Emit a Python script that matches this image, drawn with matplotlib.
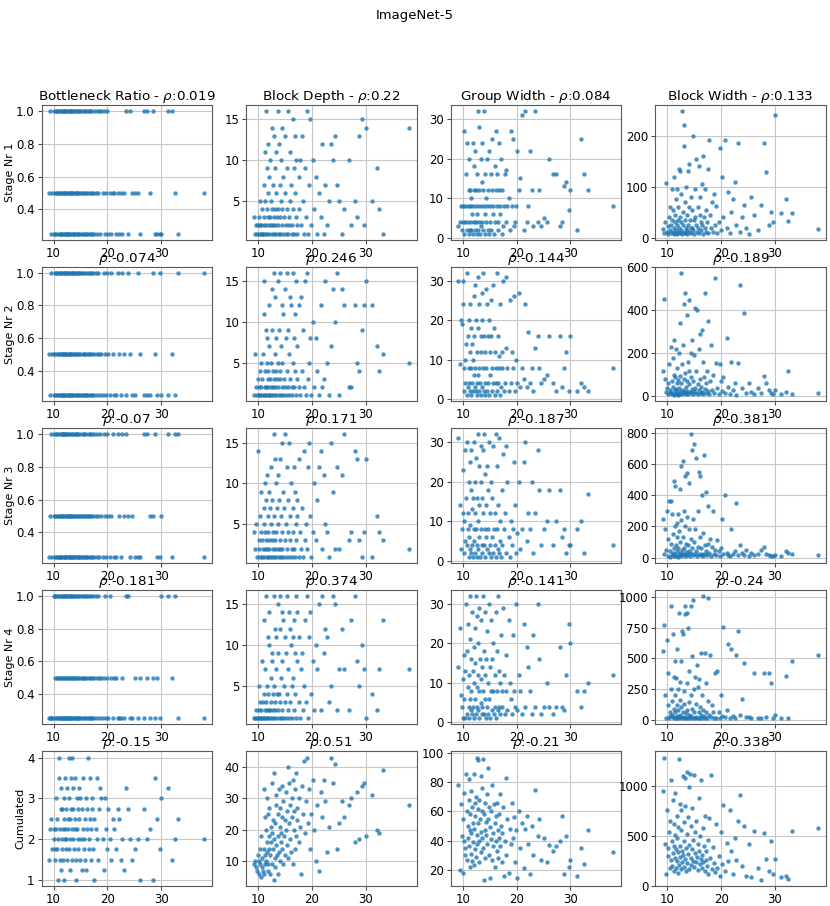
import matplotlib.pyplot as plt
from matplotlib.ticker import MaxNLocator

# validation error of each sampled model (shared x axis of every panel)
error = [
    9.2, 9.4, 9.6, 9.8, 10.0, 10.1, 10.2, 10.3, 10.4, 10.5,
    10.6, 10.7, 10.8, 10.9, 11.0, 11.1, 11.15, 11.2, 11.3, 11.35,
    11.4, 11.5, 11.55, 11.6, 11.7, 11.8, 11.85, 11.9, 12.0, 12.05,
    12.1, 12.2, 12.25, 12.3, 12.4, 12.5, 12.55, 12.6, 12.7, 12.8,
    12.85, 12.9, 13.0, 13.05, 13.1, 13.2, 13.3, 13.35, 13.4, 13.5,
    13.6, 13.65, 13.7, 13.8, 13.9, 14.0, 14.05, 14.1, 14.2, 14.3,
    14.4, 14.45, 14.5, 14.6, 14.7, 14.8, 14.9, 15.0, 15.1, 15.2,
    15.3, 15.4, 15.5, 15.6, 15.7, 15.8, 15.9, 16.0, 16.1, 16.2,
    16.3, 16.4, 16.5, 16.6, 16.7, 16.8, 16.9, 17.0, 17.1, 17.2,
    17.3, 17.5, 17.6, 17.8, 18.0, 18.1, 18.3, 18.5, 18.7, 18.9,
    19.1, 19.3, 19.5, 19.7, 19.9, 20.1, 20.4, 20.7, 21.0, 21.3,
    21.6, 21.9, 22.2, 22.5, 22.8, 23.1, 23.5, 23.9, 24.2, 24.6,
    25.1, 25.6, 26.0, 26.8, 27.3, 28.0, 28.4, 28.8, 29.2, 29.7,
    30.0, 31.2, 32.0, 32.5, 33.2, 38.0]

# --- stage 1 ---
s1_bottleneck = [
    0.5, 1, 0.25, 0.5, 0.25, 1, 0.5, 0.25, 1, 0.5,
    1, 0.25, 0.5, 1, 0.25, 0.5, 0.5, 1, 0.25, 1,
    0.25, 0.5, 1, 0.25, 0.5, 1, 0.25, 1, 0.5, 0.25,
    0.5, 1, 0.25, 1, 0.5, 0.25, 0.5, 1, 0.25, 0.5,
    1, 0.25, 0.5, 1, 0.25, 0.5, 1, 0.25, 1, 0.5,
    0.25, 0.5, 1, 0.25, 1, 0.5, 0.25, 0.5, 1, 0.25,
    0.5, 1, 0.25, 0.5, 1, 0.25, 1, 0.5, 0.25, 0.5,
    1, 0.25, 0.5, 0.25, 1, 0.5, 1, 0.25, 0.5, 1,
    0.25, 0.5, 1, 0.25, 0.5, 1, 0.25, 1, 0.5, 0.25,
    0.5, 1, 0.25, 0.5, 1, 0.25, 0.5, 1, 0.25, 1,
    0.5, 1, 0.25, 0.5, 1, 0.25, 0.5, 0.25, 0.5, 0.5,
    0.25, 0.5, 0.25, 0.5, 0.25, 0.5, 1, 0.25, 1, 0.5,
    0.5, 0.5, 0.25, 1, 1, 0.5, 1, 0.25, 0.25, 0.25,
    0.25, 1, 1, 0.5, 0.25, 0.5]
s1_depth = [
    3, 1, 2, 1, 2, 3, 1, 2, 5, 1,
    2, 1, 4, 1, 7, 3, 2, 11, 1, 5,
    16, 2, 9, 1, 4, 12, 3, 6, 2, 8,
    1, 10, 3, 2, 5, 14, 1, 4, 7, 2,
    13, 3, 1, 9, 2, 4, 11, 1, 6, 3,
    16, 2, 4, 1, 12, 7, 3, 1, 5, 10,
    2, 14, 4, 1, 8, 3, 6, 13, 2, 1,
    9, 4, 1, 16, 3, 2, 5, 11, 7, 1,
    2, 15, 4, 9, 1, 6, 13, 3, 10, 2,
    1, 8, 4, 10, 2, 13, 5, 1, 9, 3,
    16, 1, 7, 15, 2, 10, 4, 8, 1, 6,
    3, 12, 1, 7, 2, 5, 12, 10, 13, 7,
    5, 1, 4, 10, 2, 5, 3, 13, 15, 2,
    14, 5, 9, 4, 1, 14]
s1_group = [
    3, 4, 8, 2, 4, 8, 27, 1, 4, 8,
    16, 2, 24, 8, 4, 12, 1, 20, 2, 8,
    12, 4, 10, 2, 6, 8, 24, 1, 12, 4,
    18, 8, 2, 22, 4, 12, 1, 6, 16, 32,
    8, 2, 28, 4, 12, 1, 20, 8, 3, 14,
    24, 4, 12, 2, 8, 32, 6, 1, 16, 10,
    4, 20, 8, 2, 12, 1, 22, 4, 8, 16,
    2, 25, 12, 6, 8, 1, 18, 4, 27, 12,
    8, 16, 2, 4, 24, 12, 6, 8, 20, 1,
    12, 3, 8, 16, 17, 4, 8, 10, 2, 27,
    8, 25, 3, 4, 8, 22, 12, 15, 31, 2,
    32, 4, 8, 22, 12, 3, 32, 4, 12, 3,
    5, 4, 20, 16, 16, 3, 4, 13, 14, 7,
    12, 2, 25, 16, 12, 8]
s1_width = [
    18, 10, 30, 108, 12, 22, 8, 40, 15, 60,
    25, 10, 95, 35, 12, 55, 8, 20, 120, 30,
    10, 45, 15, 75, 25, 8, 95, 35, 12, 60,
    20, 135, 10, 40, 130, 15, 85, 30, 8, 248,
    25, 50, 220, 12, 180, 35, 70, 10, 100, 20,
    15, 45, 8, 130, 25, 60, 12, 145, 35, 20,
    10, 80, 20, 55, 200, 15, 35, 8, 95, 40,
    25, 155, 12, 60, 20, 140, 10, 45, 80, 30,
    15, 105, 25, 8, 160, 40, 20, 95, 12, 55,
    30, 135, 10, 192, 45, 20, 70, 12, 85, 25,
    62, 10, 30, 175, 15, 120, 40, 192, 20, 90,
    10, 50, 75, 110, 25, 185, 12, 40, 65, 20,
    8, 80, 45, 15, 65, 185, 128, 25, 50, 30,
    240, 48, 75, 32, 48, 17]

# --- stage 2 ---
s2_bottleneck = [
    0.5, 0.25, 1, 0.5, 0.25, 0.5, 1, 0.25, 0.5, 1,
    0.25, 1, 0.5, 0.25, 1, 0.5, 0.25, 1, 0.5, 0.25,
    1, 0.5, 0.25, 1, 0.25, 0.5, 1, 0.5, 0.25, 1,
    0.5, 0.25, 1, 0.5, 1, 0.25, 0.5, 0.25, 1, 0.5,
    0.25, 1, 0.5, 0.25, 0.5, 1, 0.25, 1, 0.5, 0.25,
    1, 0.5, 0.25, 1, 0.5, 0.25, 1, 0.5, 0.25, 1,
    0.5, 0.25, 1, 0.25, 0.5, 1, 0.5, 0.25, 1, 0.25,
    1, 0.5, 0.25, 1, 0.5, 0.25, 0.5, 1, 0.25, 0.5,
    0.25, 1, 0.5, 0.25, 1, 0.5, 0.25, 1, 0.5, 0.25,
    1, 0.5, 0.25, 1, 0.5, 0.25, 1, 0.5, 0.25, 0.5,
    0.25, 1, 0.5, 0.25, 1, 0.5, 0.25, 1, 0.5, 0.25,
    0.25, 1, 0.5, 0.25, 1, 0.5, 0.25, 1, 0.5, 0.25,
    0.25, 1, 0.5, 0.25, 0.25, 0.25, 1, 0.5, 0.25, 1,
    0.25, 0.25, 0.5, 0.25, 1, 1]
s2_depth = [
    1, 6, 2, 1, 3, 1, 2, 4, 1, 5,
    2, 1, 3, 6, 1, 11, 15, 2, 4, 1,
    9, 2, 5, 1, 8, 3, 2, 4, 7, 1,
    12, 1, 3, 5, 2, 14, 9, 1, 4, 2,
    16, 3, 1, 6, 2, 13, 4, 1, 8, 3,
    5, 2, 15, 1, 9, 3, 16, 4, 1, 7,
    2, 12, 5, 1, 11, 3, 14, 2, 8, 1,
    4, 16, 2, 9, 1, 6, 13, 3, 12, 2,
    1, 16, 5, 8, 2, 11, 4, 1, 15, 3,
    7, 2, 12, 1, 13, 4, 9, 2, 15, 1,
    16, 3, 5, 8, 1, 10, 2, 8, 4, 1,
    12, 2, 3, 15, 5, 1, 7, 14, 10, 16,
    1, 14, 12, 2, 2, 12, 5, 4, 9, 12,
    15, 12, 7, 4, 6, 5]
s2_group = [
    30, 9, 20, 19, 24, 30, 8, 2, 10, 4,
    14, 32, 1, 3, 16, 8, 20, 4, 2, 12,
    24, 1, 8, 18, 4, 14, 2, 10, 26, 6,
    16, 3, 29, 8, 2, 20, 4, 12, 1, 31,
    6, 18, 2, 8, 24, 4, 16, 1, 12, 27,
    3, 20, 8, 32, 2, 16, 4, 12, 1, 28,
    8, 24, 2, 16, 4, 20, 1, 12, 6, 25,
    16, 2, 8, 29, 4, 18, 1, 12, 4, 8,
    32, 2, 16, 4, 11, 8, 1, 24, 3, 12,
    8, 30, 2, 4, 31, 13, 8, 2, 25, 4,
    12, 8, 26, 2, 10, 4, 27, 3, 8, 5,
    24, 3, 17, 4, 8, 2, 13, 16, 8, 4,
    5, 6, 16, 4, 2, 16, 3, 8, 12, 2,
    16, 2, 4, 3, 2, 8]
s2_width = [
    120, 455, 80, 20, 40, 60, 10, 150, 30, 15,
    230, 20, 70, 10, 180, 45, 100, 8, 260, 30,
    15, 90, 220, 35, 10, 60, 130, 20, 5, 75,
    40, 200, 12, 95, 340, 25, 575, 60, 10, 150,
    30, 240, 15, 80, 430, 20, 110, 480, 45, 10,
    70, 380, 25, 160, 10, 450, 55, 120, 20, 90,
    15, 200, 35, 260, 10, 70, 190, 25, 410, 40,
    120, 15, 400, 55, 10, 220, 30, 290, 80, 15,
    45, 310, 20, 160, 10, 90, 35, 480, 15, 60,
    120, 25, 350, 10, 70, 240, 30, 100, 15, 550,
    155, 40, 10, 150, 70, 25, 90, 15, 270, 45,
    10, 160, 30, 60, 5, 155, 520, 40, 390, 15,
    60, 20, 10, 40, 15, 95, 60, 30, 15, 10,
    30, 10, 20, 120, 10, 15]

# --- stage 3 ---
s3_bottleneck = [
    0.25, 0.5, 1, 0.25, 0.5, 1, 0.25, 0.5, 1, 0.25,
    0.5, 1, 0.25, 0.5, 0.25, 1, 0.5, 0.25, 1, 0.5,
    0.25, 1, 0.5, 0.25, 1, 0.5, 0.25, 0.5, 1, 0.25,
    1, 0.25, 0.5, 1, 0.25, 0.5, 1, 0.25, 0.5, 0.25,
    0.5, 1, 0.25, 0.5, 1, 0.25, 0.5, 1, 0.25, 0.5,
    0.25, 0.5, 1, 0.25, 0.5, 1, 0.25, 1, 0.5, 0.25,
    1, 0.25, 0.5, 1, 0.25, 0.5, 0.25, 1, 0.5, 0.25,
    0.5, 1, 0.25, 0.5, 1, 0.25, 0.5, 0.25, 1, 0.5,
    0.25, 0.5, 1, 0.25, 0.5, 1, 0.25, 0.5, 0.25, 1,
    0.5, 0.25, 1, 0.5, 0.25, 1, 0.5, 0.25, 1, 0.5,
    0.25, 1, 0.5, 0.25, 1, 0.5, 0.25, 0.5, 1, 0.25,
    0.25, 1, 0.5, 0.25, 1, 0.5, 1, 0.5, 0.25, 0.5,
    0.25, 0.25, 0.25, 1, 1, 0.5, 0.5, 1, 0.25, 0.25,
    0.5, 1, 0.25, 1, 1, 0.25]
s3_depth = [
    4, 2, 5, 1, 14, 3, 2, 1, 6, 4,
    9, 1, 3, 2, 7, 5, 1, 10, 4, 2,
    3, 8, 1, 11, 2, 6, 4, 1, 9, 3,
    2, 7, 1, 5, 12, 3, 1, 8, 4, 2,
    16, 1, 6, 3, 13, 2, 4, 1, 10, 7,
    2, 11, 5, 1, 8, 3, 13, 2, 6, 1,
    4, 15, 2, 9, 1, 7, 3, 16, 5, 1,
    12, 2, 8, 4, 1, 15, 6, 3, 10, 2,
    1, 7, 4, 12, 2, 9, 1, 5, 3, 8,
    6, 1, 13, 4, 2, 7, 1, 14, 3, 5,
    2, 12, 15, 6, 1, 4, 10, 3, 8, 12,
    14, 2, 11, 5, 4, 1, 15, 9, 2, 12,
    2, 11, 16, 3, 4, 14, 13, 3, 1, 4,
    13, 1, 6, 4, 3, 2]
s3_group = [
    31, 14, 3, 8, 12, 23, 10, 2, 28, 5,
    16, 4, 30, 8, 12, 1, 20, 6, 25, 3,
    9, 28, 2, 18, 4, 13, 16, 1, 30, 8,
    5, 20, 12, 2, 26, 8, 1, 16, 4, 32,
    10, 3, 24, 6, 14, 1, 20, 8, 29, 4,
    16, 2, 28, 12, 4, 32, 8, 1, 22, 6,
    14, 3, 24, 8, 18, 2, 30, 4, 12, 1,
    20, 6, 16, 2, 29, 8, 4, 12, 1, 32,
    8, 24, 3, 14, 2, 31, 5, 10, 1, 18,
    4, 27, 8, 12, 2, 29, 20, 6, 1, 10,
    4, 8, 25, 14, 2, 7, 20, 3, 8, 25,
    30, 5, 12, 8, 20, 2, 12, 28, 18, 4,
    8, 10, 18, 4, 10, 18, 6, 8, 2, 4,
    4, 8, 10, 2, 17, 4]
s3_width = [
    250, 20, 180, 50, 300, 10, 120, 360, 40, 5,
    360, 90, 15, 280, 30, 150, 10, 490, 60, 200,
    20, 460, 80, 10, 220, 40, 130, 5, 280, 60,
    15, 170, 440, 30, 100, 590, 10, 240, 50, 20,
    130, 620, 25, 300, 60, 10, 200, 520, 35, 90,
    260, 15, 540, 80, 20, 180, 480, 40, 10, 120,
    790, 30, 690, 60, 15, 250, 100, 730, 20, 180,
    640, 40, 10, 300, 70, 550, 20, 130, 520, 15,
    60, 400, 25, 160, 10, 660, 80, 20, 420, 45,
    15, 330, 90, 30, 120, 10, 70, 300, 25, 50,
    15, 110, 40, 10, 60, 250, 20, 400, 30, 15,
    10, 180, 20, 40, 350, 15, 80, 30, 15, 50,
    10, 30, 15, 20, 50, 70, 20, 15, 10, 8,
    15, 10, 40, 30, 20, 15]

# --- stage 4 ---
s4_bottleneck = [
    0.25, 0.25, 0.25, 0.25, 1, 0.25, 1, 0.5, 0.25, 1,
    0.5, 0.25, 1, 0.5, 0.25, 1, 0.5, 0.25, 1, 0.25,
    0.5, 1, 0.25, 0.5, 1, 0.25, 0.25, 1, 0.5, 0.25,
    1, 0.5, 0.25, 1, 0.5, 0.25, 1, 0.25, 0.5, 1,
    0.25, 0.5, 1, 0.25, 0.5, 1, 0.25, 0.5, 0.25, 1,
    0.5, 0.25, 1, 0.5, 0.25, 1, 0.5, 0.25, 1, 0.25,
    0.5, 1, 0.25, 0.5, 1, 0.25, 0.25, 0.5, 1, 0.5,
    0.25, 1, 0.5, 0.25, 1, 0.5, 0.25, 1, 0.5, 0.25,
    1, 0.25, 0.5, 1, 0.25, 0.5, 1, 0.25, 0.5, 0.25,
    1, 0.5, 0.25, 1, 0.5, 0.25, 1, 0.5, 0.25, 0.5,
    0.25, 0.5, 1, 0.25, 0.5, 0.25, 1, 0.5, 0.25, 0.5,
    0.5, 0.25, 0.25, 0.25, 0.5, 0.25, 1, 1, 0.25, 0.25,
    0.5, 0.25, 0.5, 0.25, 0.5, 0.25, 0.5, 0.25, 0.5, 0.25,
    1, 1, 0.5, 1, 0.25, 0.25]
s4_depth = [
    1, 1, 2, 1, 1, 5, 2, 1, 3, 1,
    2, 8, 1, 3, 13, 4, 1, 2, 7, 1,
    16, 3, 1, 2, 5, 11, 1, 4, 2, 10,
    14, 2, 1, 3, 6, 8, 1, 9, 4, 2,
    16, 1, 5, 12, 2, 3, 11, 1, 7, 4,
    15, 2, 9, 1, 4, 16, 3, 12, 1, 6,
    2, 14, 8, 1, 13, 5, 3, 11, 1, 9,
    4, 16, 2, 7, 14, 1, 12, 3, 10, 5,
    1, 11, 6, 13, 2, 9, 4, 16, 1, 8,
    14, 3, 11, 1, 7, 9, 2, 5, 13, 3,
    16, 1, 11, 14, 4, 8, 2, 10, 7, 15,
    2, 16, 9, 12, 11, 3, 5, 16, 15, 2,
    7, 12, 7, 2, 13, 16, 8, 5, 10, 7,
    1, 4, 2, 7, 13, 7]
s4_group = [
    14, 24, 7, 4, 1, 11, 17, 6, 13, 1,
    30, 2, 18, 9, 25, 4, 12, 1, 21, 6,
    32, 3, 16, 8, 28, 2, 13, 4, 19, 10,
    1, 24, 6, 15, 2, 32, 9, 4, 27, 12,
    3, 20, 8, 29, 1, 16, 5, 11, 26, 2,
    14, 4, 32, 8, 18, 2, 12, 6, 28, 1,
    16, 4, 23, 2, 10, 30, 6, 14, 1, 8,
    26, 3, 16, 8, 20, 2, 12, 4, 28, 1,
    18, 8, 3, 32, 13, 4, 10, 2, 22, 8,
    4, 29, 12, 2, 8, 17, 3, 26, 10, 6,
    2, 22, 8, 4, 30, 3, 12, 8, 2, 25,
    4, 19, 14, 8, 2, 22, 4, 30, 16, 2,
    4, 10, 4, 2, 4, 19, 4, 3, 12, 25,
    20, 8, 4, 8, 10, 12]
s4_width = [
    560, 770, 200, 15, 650, 120, 380, 10, 60, 30,
    250, 930, 40, 150, 700, 20, 90, 350, 15, 480,
    60, 200, 10, 340, 120, 30, 580, 15, 250, 80,
    870, 20, 160, 40, 310, 10, 480, 100, 720, 25,
    700, 60, 15, 230, 130, 930, 20, 860, 50, 10,
    300, 870, 80, 15, 750, 140, 40, 400, 10, 200,
    930, 30, 520, 90, 10, 980, 250, 60, 15, 350,
    130, 20, 450, 10, 270, 60, 330, 15, 100, 540,
    40, 200, 10, 1010, 80, 30, 540, 15, 300, 60,
    10, 990, 150, 40, 530, 20, 120, 60, 10, 380,
    10, 400, 60, 15, 200, 30, 760, 20, 80, 620,
    10, 580, 30, 15, 530, 720, 40, 170, 460, 20,
    20, 10, 380, 15, 10, 380, 20, 380, 300, 10,
    40, 10, 360, 15, 480, 530]

# --- cumulated over stages ---
cum_bottleneck = [
    1.5, 2.25, 2.5, 1.75, 2.25, 2, 1.5, 1.75, 2.25, 3,
    1.75, 2.5, 2, 1, 3.5, 4, 2.25, 1.5, 2.75, 1.25,
    3.25, 2, 1.75, 2.75, 2.25, 1.5, 3, 2.5, 1, 2,
    2.25, 3.5, 1.75, 2, 2.75, 1.5, 3.25, 2.25, 2.5, 4,
    1.75, 3, 2, 2.5, 1.25, 2.75, 3.5, 2.25, 1.5, 4,
    2, 3.25, 2.75, 1.75, 2.5, 3.5, 2.25, 1.5, 1, 3,
    2.25, 2, 2.75, 1.75, 3.25, 2.5, 1.5, 3, 2, 1.25,
    2.75, 2.25, 3.5, 1.75, 2, 2.5, 1.5, 3, 1.25, 2.25,
    2.75, 4, 1.75, 2, 3.5, 2.5, 1.5, 2.25, 3, 2.75,
    1.75, 2.5, 1, 2.25, 3.5, 2, 1.5, 2.75, 3.25, 3,
    2, 1.25, 3, 2.25, 1.75, 2.75, 2, 1.5, 2.5, 2.25,
    1.75, 2.75, 2.5, 1.5, 2, 1.25, 3.25, 2.75, 2, 1.5,
    1.75, 2, 1, 2.75, 2, 2.25, 1, 3.5, 2.5, 1.75,
    3, 3.25, 1.5, 2, 2.5, 2]
cum_depth = [
    9, 10, 8, 7, 12, 6, 10, 9, 14, 5,
    18, 8, 11, 7, 14, 33, 6, 24, 12, 9,
    20, 10, 16, 30, 13, 7, 25, 9, 18, 14,
    27, 12, 6, 21, 16, 35, 9, 19, 14, 23,
    4, 17, 38, 11, 22, 8, 28, 15, 31, 12,
    18, 25, 6, 33, 13, 21, 10, 27, 16, 19,
    24, 14, 34, 9, 29, 18, 23, 12, 32, 20,
    15, 26, 40, 11, 22, 35, 17, 28, 13, 24,
    30, 9, 36, 20, 26, 14, 33, 18, 38, 23,
    27, 16, 30, 21, 6, 34, 25, 42, 19, 29,
    43, 22, 33, 14, 25, 36, 20, 10, 28, 7,
    32, 24, 36, 29, 13, 21, 43, 35, 41, 14,
    22, 29, 24, 28, 30, 16, 32, 17, 34, 35,
    18, 31, 20, 19, 39, 28]
cum_group = [
    78, 20, 65, 43, 55, 18, 40, 73, 35, 30,
    86, 60, 27, 50, 42, 82, 36, 68, 22, 47,
    58, 31, 74, 45, 26, 63, 39, 52, 86, 23,
    48, 66, 34, 57, 70, 29, 44, 97, 38, 62,
    52, 95, 40, 68, 25, 55, 84, 46, 32, 60,
    76, 42, 96, 35, 58, 13, 47, 66, 28, 53,
    44, 72, 38, 90, 55, 30, 63, 14, 49, 41,
    60, 27, 78, 45, 36, 65, 52, 22, 40, 57,
    33, 66, 47, 28, 58, 42, 72, 36, 50, 25,
    45, 63, 16, 40, 83, 30, 55, 18, 48, 38,
    66, 42, 56, 25, 47, 14, 60, 35, 52, 21,
    48, 57, 38, 17, 50, 30, 75, 43, 55, 27,
    42, 25, 37, 33, 36, 40, 57, 17, 43, 22,
    27, 16, 35, 24, 47, 32]
cum_width = [
    950, 1280, 420, 120, 760, 380, 300, 540, 180, 650,
    260, 1060, 450, 200, 860, 330, 620, 150, 400, 510,
    280, 930, 370, 180, 700, 250, 480, 130, 590, 340,
    1270, 210, 820, 400, 290, 560, 170, 760, 350, 240,
    1100, 310, 640, 190, 450, 1080, 270, 800, 380, 150,
    520, 1140, 230, 690, 320, 990, 410, 170, 1120, 280,
    600, 210, 370, 780, 250, 460, 1110, 190, 330, 540,
    240, 650, 290, 420, 160, 880, 350, 220, 500, 270,
    1060, 310, 180, 580, 240, 400, 150, 700, 260, 350,
    200, 460, 120, 680, 280, 1110, 170, 390, 230, 140,
    620, 180, 300, 100, 540, 220, 810, 150, 430, 250,
    760, 350, 120, 480, 260, 650, 910, 200, 600, 100,
    420, 90, 550, 180, 60, 530, 270, 150, 450, 120,
    270, 90, 100, 70, 550, 575]

params = ['Bottleneck Ratio', 'Block Depth', 'Group Width', 'Block Width']
row_labels = ['Stage Nr 1', 'Stage Nr 2', 'Stage Nr 3', 'Stage Nr 4', 'Cumulated']
rho = [['0.019', '0.22', '0.084', '0.133'],
       ['-0.074', '0.246', '-0.144', '-0.189'],
       ['-0.07', '0.171', '-0.187', '-0.381'],
       ['-0.181', '0.374', '-0.141', '-0.24'],
       ['-0.15', '0.51', '-0.21', '-0.338']]

values = [
    [s1_bottleneck, s1_depth, s1_group, s1_width],
    [s2_bottleneck, s2_depth, s2_group, s2_width],
    [s3_bottleneck, s3_depth, s3_group, s3_width],
    [s4_bottleneck, s4_depth, s4_group, s4_width],
    [cum_bottleneck, cum_depth, cum_group, cum_width],
]

fig, axes = plt.subplots(5, 4, figsize=(8.3, 9.06), dpi=100)
fig.subplots_adjust(left=0.05, right=0.995, top=0.884, bottom=0.022,
                    wspace=0.2, hspace=0.2)

for i in range(5):
    for j in range(4):
        ax = axes[i, j]
        ax.scatter(error, values[i][j], s=10, color='#1f77b4', alpha=0.8,
                   linewidths=0)
        ax.grid(True, color='#c8c8c8', linewidth=0.8)
        ax.set_axisbelow(True)
        ax.set_xticks([10, 20, 30])
        ax.yaxis.set_major_locator(MaxNLocator(nbins=5, steps=[1, 2, 2.5, 5, 10]))
        ax.tick_params(labelsize=8.5, length=3, pad=2, color='0.3')
        for sp in ax.spines.values():
            sp.set_color('0.35')
        if i == 0:
            ax.set_title(f'{params[j]} - $\\rho$:{rho[i][j]}', fontsize=9.7, pad=2)
        else:
            ax.set_title(f'$\\rho$:{rho[i][j]}', fontsize=9.7, pad=2)
        if j == 0:
            ax.set_ylabel(row_labels[i], fontsize=8, labelpad=1)

fig.suptitle('ImageNet-5', fontsize=9.5, y=0.99)
fig.savefig('out.png', dpi=100)
